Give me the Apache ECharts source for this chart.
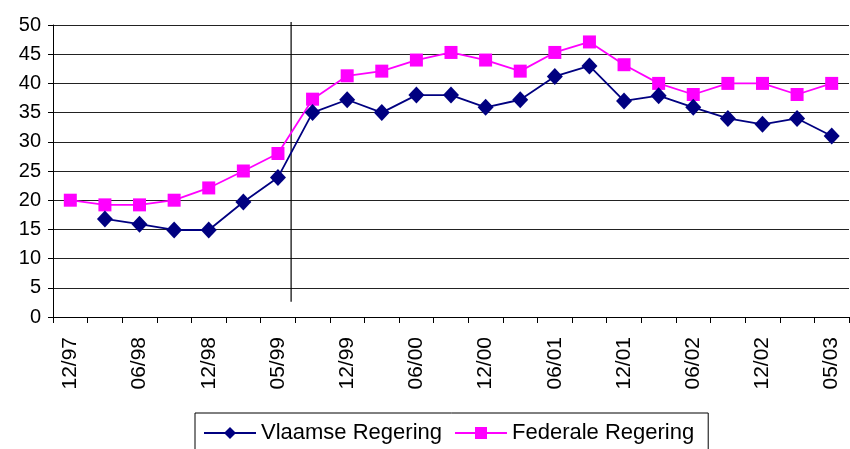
<!DOCTYPE html>
<html>
<head>
<meta charset="utf-8">
<script src="https://cdn.jsdelivr.net/npm/echarts@6/dist/echarts.min.js"></script>
<style>
  html, body { margin: 0; padding: 0; background: #fff; }
  #chart { width: 850px; height: 449px; }
</style>
</head>
<body>
<div id="chart"></div>
<script>
// periods (only every other one is labelled on the axis)
var periods = ['12/97', '03/98', '06/98', '09/98', '12/98', '03/99', '05/99', '09/99',
    '12/99', '03/00', '06/00', '09/00', '12/00', '03/01', '06/01', '09/01',
    '12/01', '03/02', '06/02', '09/02', '12/02', '03/03', '05/03'];

var vlaamse = [null, 16.8, 15.9, 14.9, 14.9, 19.7, 23.9, 35, 37.2, 35, 38, 38,
    35.9, 37.2, 41.2, 43, 37, 37.9, 35.9, 34, 33, 34, 31];

var federale = [20, 19.2, 19.2, 20, 22.1, 25, 28, 37.3, 41.3, 42.1, 44, 45.3,
    44, 42.1, 45.3, 47.1, 43.2, 40, 38.1, 40, 40, 38.1, 40];

// vertical separator line (position on the category index scale, y from/to)
var separator = [[6.38, 2.6], [6.38, 50.5]];

var font = 'Liberation Sans, Arial, sans-serif';

var chart = echarts.init(document.getElementById('chart'));
chart.setOption({
    animation: false,
    grid: { left: 53, right: 1, top: 25, bottom: 132, containLabel: false },
    legend: {
        left: 195,
        top: 413,
        data: [
            { name: 'Vlaamse Regering' },
            { name: 'Federale Regering' }
        ],
        itemWidth: 52,
        itemHeight: 15,
        itemGap: 12,
        padding: [9, 14, 12, 8],
        borderColor: '#000',
        borderWidth: 1,
        borderRadius: 0,
        textStyle: { fontFamily: font, fontSize: 22, color: '#000' }
    },
    xAxis: [{
        type: 'category',
        data: periods,
        boundaryGap: true,
        axisLine: { lineStyle: { color: '#000', width: 1 } },
        axisTick: { show: true, interval: 0, length: 6, lineStyle: { color: '#000' } },
        axisLabel: {
            interval: 1,
            rotate: 90,
            margin: 20,
            fontFamily: font,
            fontSize: 21,
            color: '#000'
        },
        splitLine: { show: false }
    }, {
        type: 'value',
        show: false,
        min: -0.5,
        max: 22.5
    }],
    yAxis: {
        type: 'value',
        min: 0,
        max: 50,
        interval: 5,
        axisLine: { show: true, onZero: false, lineStyle: { color: '#000', width: 1 } },
        axisTick: { show: true, length: 5, lineStyle: { color: '#000' } },
        axisLabel: { fontFamily: font, fontSize: 20, color: '#000', margin: 12 },
        splitLine: { show: true, lineStyle: { color: '#222', width: 1 } }
    },
    series: [{
        name: 'Vlaamse Regering',
        type: 'line',
        data: vlaamse,
        symbol: 'diamond',
        symbolSize: [16, 17],
        showAllSymbol: true,
        itemStyle: { color: '#000080' },
        lineStyle: { color: '#000080', width: 1.8 },
        z: 3
    }, {
        name: 'Federale Regering',
        type: 'line',
        data: federale,
        symbol: 'rect',
        symbolSize: 13,
        showAllSymbol: true,
        itemStyle: { color: '#FF00FF' },
        lineStyle: { color: '#FF00FF', width: 1.8 },
        z: 2
    }, {
        name: 'separator',
        type: 'line',
        xAxisIndex: 1,
        data: separator,
        symbol: 'none',
        clip: false,
        silent: true,
        lineStyle: { color: '#000', width: 1.2 },
        z: 1
    }]
});
</script>
</body>
</html>
